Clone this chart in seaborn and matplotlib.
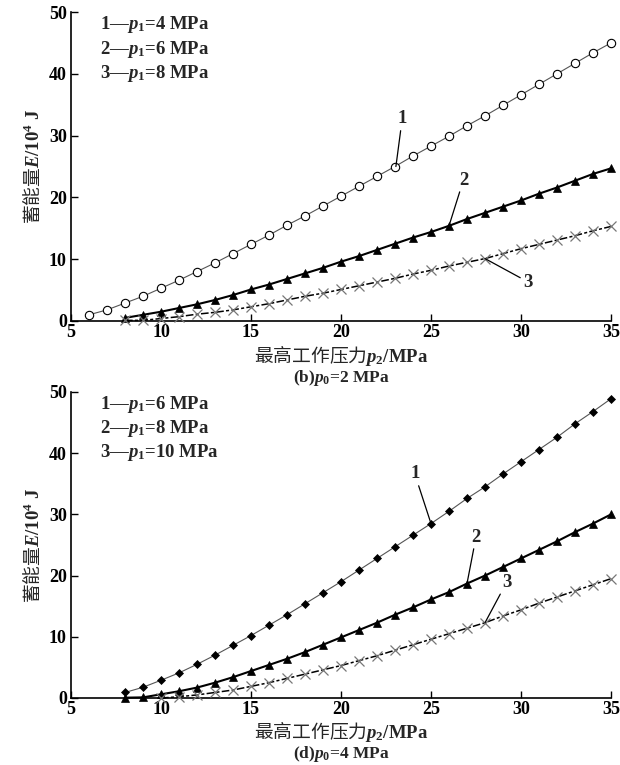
import matplotlib
matplotlib.use('Agg')
import matplotlib.pyplot as plt
import seaborn as sns

# stored energy E (10^4 J) vs max working pressure p2 (MPa)
p2_from6 = list(range(6, 36))
p2_from8 = list(range(8, 36))
p2_from10 = list(range(10, 36))

# (b) p0 = 2 MPa
E_b_p1_4 = [1.0, 1.8, 2.9, 4.0, 5.3, 6.6, 8.0, 9.4, 10.9, 12.4, 13.9, 15.5, 17.0, 18.6, 20.2,
            21.8, 23.4, 25.0, 26.7, 28.3, 29.9, 31.6, 33.2, 34.9, 36.6, 38.3, 40.0, 41.7, 43.4, 45.0]
E_b_p1_6 = [0.5, 1.0, 1.5, 2.1, 2.7, 3.4, 4.2, 5.1, 5.9, 6.8, 7.7, 8.6, 9.6, 10.5, 11.5,
            12.5, 13.5, 14.4, 15.4, 16.5, 17.5, 18.5, 19.5, 20.6, 21.6, 22.7, 23.8, 24.7]
E_b_p1_8 = [0.1, 0.1, 0.4, 0.7, 1.1, 1.4, 1.8, 2.3, 2.8, 3.4, 4.0, 4.5, 5.1, 5.7, 6.3,
            6.9, 7.6, 8.2, 8.9, 9.5, 10.1, 10.9, 11.7, 12.4, 13.1, 13.8, 14.6, 15.3]

# (d) p0 = 4 MPa
E_d_p1_6 = [0.9, 1.75, 2.9, 4.1, 5.5, 7.0, 8.6, 10.2, 11.9, 13.6, 15.4, 17.2, 19.0, 20.9, 22.8,
            24.7, 26.6, 28.5, 30.5, 32.6, 34.5, 36.6, 38.6, 40.6, 42.6, 44.8, 46.8, 48.9]
E_d_p1_8 = [0.05, 0.1, 0.6, 1.1, 1.7, 2.5, 3.4, 4.4, 5.4, 6.4, 7.5, 8.7, 9.9, 11.1, 12.3,
            13.6, 14.8, 16.1, 17.3, 18.7, 20.0, 21.4, 22.8, 24.2, 25.6, 27.1, 28.5, 30.0]
E_d_p1_10 = [0.0, 0.2, 0.5, 0.9, 1.3, 1.9, 2.5, 3.2, 3.9, 4.6, 5.3, 6.1, 6.9,
             7.8, 8.7, 9.6, 10.5, 11.4, 12.3, 13.4, 14.4, 15.5, 16.5, 17.5, 18.5, 19.5]

legend_b = ['1—$p_1$=4 MPa', '2—$p_1$=6 MPa', '3—$p_1$=8 MPa']
legend_d = ['1—$p_1$=6 MPa', '2—$p_1$=8 MPa', '3—$p_1$=10 MPa']
curve_ids = ['1', '2', '3']
x_ticks = [5, 10, 15, 20, 25, 30, 35]
y_ticks = [0, 10, 20, 30, 40, 50]

sns.set_style('ticks')
plt.rcParams['font.family'] = ['Liberation Serif', 'DejaVu Sans']
plt.rcParams['font.weight'] = 'bold'
plt.rcParams['mathtext.fontset'] = 'custom'
plt.rcParams['mathtext.rm'] = 'Liberation Serif:bold'
plt.rcParams['mathtext.it'] = 'Liberation Serif:bold:italic'
plt.rcParams['mathtext.bf'] = 'Liberation Serif:bold'
plt.rcParams['xtick.direction'] = 'in'
plt.rcParams['ytick.direction'] = 'in'

CJK = 'Noto Sans CJK SC'
FS = 13.5
FS_CJK = 13.5

open_circle = dict(marker='o', markersize=6, markerfacecolor='white', markeredgecolor='black',
                   markeredgewidth=0.8, color='#555555', linewidth=0.8)
diamond = dict(marker='D', markersize=4.5, markerfacecolor='black', markeredgecolor='black',
               markeredgewidth=0.5, color='#555555', linewidth=0.8)
triangle = dict(marker='^', markersize=6, markerfacecolor='black', markeredgecolor='black',
                markeredgewidth=0.5, color='black', linewidth=1.5)
cross = dict(marker='x', markersize=6.5, markeredgecolor='#777777', markeredgewidth=0.9,
             color='black', linewidth=1.1)


def draw_panel(ax, curves, legend, leaders, tag, label_y, tag_y):
    for (x, y, style) in curves:
        sns.lineplot(x=x, y=y, ax=ax, clip_on=False, zorder=3, **style)
    # curve 3 is dashed
    ax.lines[-1].set_dashes([5, 1.5, 2, 1.5])

    for cid, (pt, txt) in zip(curve_ids, leaders):
        ax.annotate(cid, xy=pt, xytext=txt, ha='center', va='center', fontsize=FS,
                    fontweight='bold',
                    arrowprops=dict(arrowstyle='-', lw=0.9, color='black', shrinkA=0, shrinkB=0))

    for i, s in enumerate(legend):
        ax.text(0.054, 0.958 - 0.078 * i, s, transform=ax.transAxes, ha='left', va='center',
                fontsize=FS, fontweight='bold')

    ax.set_xlim(5, 35)
    ax.set_ylim(0, 50)
    ax.set_xticks(x_ticks)
    ax.set_yticks(y_ticks)
    ax.tick_params(length=5, width=1, pad=3, labelsize=13, colors='black')
    ax.tick_params(axis='x', pad=2)
    for s in ['left', 'bottom']:
        ax.spines[s].set_linewidth(1.2)
        ax.spines[s].set_color('black')
    sns.despine(ax=ax)

    ax.set_xlabel(r'最高工作压力$p_2\mathrm{/MPa}$', family=CJK, fontsize=FS_CJK,
                  fontweight='normal')
    ax.xaxis.set_label_coords(0.5, label_y)
    ax.set_ylabel(r'蓄能量$E\mathrm{/10}^{4}\ \mathrm{J}$', family=CJK, fontsize=FS_CJK,
                  fontweight='normal')
    ax.yaxis.set_label_coords(-0.05, 0.5)
    ax.text(0.5, tag_y, tag, transform=ax.transAxes, ha='center', va='top', fontsize=12.5,
            fontweight='bold')


fig = plt.figure(figsize=(6.2, 7.65), dpi=100)
ax1 = fig.add_axes([0.1145, 0.5804, 0.871, 0.4039])
ax2 = fig.add_axes([0.1145, 0.0876, 0.871, 0.4000])

draw_panel(ax1,
           [(p2_from6, E_b_p1_4, open_circle),
            (p2_from8, E_b_p1_6, triangle),
            (p2_from8, E_b_p1_8, cross)],
           legend_b,
           [((23.05, 25.0), (23.4, 32.7)),
            ((26.0, 15.4), (26.8, 22.8)),
            ((28.0, 10.1), (30.4, 6.3))],
           '(b)$p_0$=2 MPa', -0.072, -0.153)

draw_panel(ax2,
           [(p2_from8, E_d_p1_6, diamond),
            (p2_from8, E_d_p1_8, triangle),
            (p2_from10, E_d_p1_10, cross)],
           legend_d,
           [((25.0, 28.5), (24.1, 36.6)),
            ((27.0, 18.7), (27.5, 26.3)),
            ((28.0, 12.3), (29.2, 18.9))],
           '(d)$p_0$=4 MPa', -0.07, -0.152)

fig.savefig('out.png', dpi=100, facecolor='white')
